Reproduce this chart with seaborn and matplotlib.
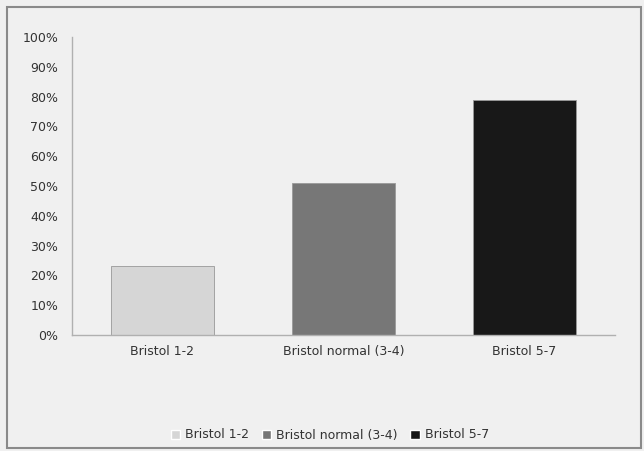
import matplotlib
matplotlib.use("Agg")
import matplotlib.pyplot as plt
import seaborn as sns
import pandas as pd
from matplotlib.patches import Rectangle
from matplotlib.ticker import PercentFormatter

categories = ["Bristol 1-2", "Bristol normal (3-4)", "Bristol 5-7"]
values = [23, 51, 79]
colors = ["#d6d6d6", "#777777", "#181818"]

df = pd.DataFrame({"group": categories, "pct": values})

sns.set_style("white")
plt.rcParams["font.family"] = ["Liberation Sans Narrow", "DejaVu Sans"]

bg = "#f0f0f0"
fig = plt.figure(figsize=(6.44, 4.51), dpi=100, facecolor=bg)
ax = fig.add_axes([72 / 644, 1 - 335 / 451, 543 / 644, 298 / 451])
ax.set_facecolor(bg)

sns.barplot(data=df, x="group", y="pct", hue="group", palette=colors,
            width=0.57, legend=False, ax=ax, edgecolor="#999999", linewidth=0.6)

ax.set_ylim(0, 100)
ax.set_yticks(range(0, 101, 10))
ax.yaxis.set_major_formatter(PercentFormatter(decimals=0))
ax.set_xlabel("")
ax.set_ylabel("")
ax.tick_params(axis="both", length=0, labelsize=9, colors="#333333")
ax.tick_params(axis="x", pad=7)
ax.tick_params(axis="y", pad=10)
for s in ["top", "right"]:
    ax.spines[s].set_visible(False)
for s in ["left", "bottom"]:
    ax.spines[s].set_color("#b0b0b0")
    ax.spines[s].set_linewidth(1.0)

handles = [Rectangle((0, 0), 1, 1, facecolor=c) for c in colors]
fig.legend(handles, categories, loc="center", bbox_to_anchor=(330 / 644, 1 - 435 / 451),
           ncol=3, frameon=False, fontsize=9, handlelength=0.75, handleheight=0.75,
           handletextpad=0.4, columnspacing=1.0, labelcolor="#333333")

# outer border like the Excel chart frame
fig.patches.append(Rectangle((7 / 644, 3 / 451), 634 / 644, 441 / 451,
                             transform=fig.transFigure, fill=False,
                             edgecolor="#8a8a8a", linewidth=1.5))

fig.savefig("out.png", dpi=100, facecolor=bg)
